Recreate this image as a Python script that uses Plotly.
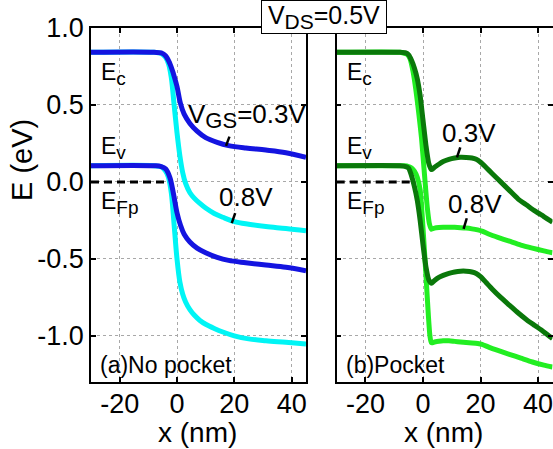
import plotly.graph_objects as go

# ---- band-edge data (x in nm, energy in eV) ----
# (a) no pocket
x_a_vgs03 = [-30, -8, -5.5, -4, -2.5, -1.2, 0, 1.2, 2.5, 4.5, 7, 10, 14, 18, 24, 31, 38, 45]
ec_a_vgs03 = [0.842, 0.842, 0.838, 0.82, 0.77, 0.70, 0.62, 0.51, 0.44, 0.38, 0.33, 0.288, 0.257, 0.236, 0.22, 0.207, 0.19, 0.16]
ev_a_vgs03 = [0.105, 0.105, 0.10, 0.085, 0.03, -0.08, -0.2, -0.28, -0.34, -0.39, -0.43, -0.46, -0.49, -0.51, -0.525, -0.54, -0.555, -0.578]

x_a_vgs08 = [-30, -8, -5.5, -4, -3, -2, -1, 0, 1, 2, 3, 4.5, 6, 8, 10, 13, 16, 20, 25, 31, 38, 45]
ec_a_vgs08 = [0.842, 0.842, 0.835, 0.81, 0.77, 0.68, 0.50, 0.32, 0.17, 0.06, -0.01, -0.07, -0.105, -0.14, -0.17, -0.205, -0.23, -0.258, -0.275, -0.29, -0.303, -0.318]
ev_a_vgs08 = [0.105, 0.105, 0.098, 0.07, 0.03, -0.07, -0.28, -0.50, -0.65, -0.73, -0.78, -0.83, -0.865, -0.90, -0.925, -0.952, -0.975, -1.0, -1.02, -1.032, -1.042, -1.053]

# (b) pocket
x_b_vgs03 = [-30, -8, -6, -5, -4, -3, -2, -1, 0, 1, 2, 2.9, 4, 5.5, 7, 9, 11, 13, 15, 17, 18.5, 20, 22, 24, 27, 30, 33, 36, 39, 42, 45]
ec_b_vgs03 = [0.842, 0.842, 0.838, 0.825, 0.79, 0.74, 0.67, 0.56, 0.40, 0.24, 0.12, 0.08, 0.095, 0.115, 0.132, 0.146, 0.155, 0.16, 0.159, 0.155, 0.147, 0.128, 0.092, 0.055, 0.0, -0.055, -0.11, -0.15, -0.19, -0.225, -0.262]
ev_b_vgs03 = [0.105, 0.105, 0.10, 0.09, 0.04, -0.03, -0.12, -0.25, -0.41, -0.55, -0.635, -0.658, -0.64, -0.62, -0.607, -0.594, -0.585, -0.58, -0.58, -0.585, -0.595, -0.615, -0.655, -0.695, -0.75, -0.80, -0.85, -0.895, -0.935, -0.975, -1.018]

x_b_vgs08_ec = [-30, -8, -6.5, -5.5, -4.5, -3.5, -2.5, -1.5, -0.5, 0.5, 1.5, 2.2, 2.9, 4, 5.5, 7, 9, 11, 13, 15, 17, 19, 20.5, 23, 26, 30, 34, 38, 42, 45]
ec_b_vgs08 = [0.842, 0.842, 0.835, 0.83, 0.80, 0.72, 0.60, 0.45, 0.28, 0.05, -0.17, -0.27, -0.307, -0.30, -0.296, -0.294, -0.294, -0.295, -0.297, -0.30, -0.305, -0.312, -0.32, -0.34, -0.36, -0.385, -0.41, -0.43, -0.448, -0.46]
x_b_vgs08_ev = [-30, -8, -6.5, -5, -4, -3, -2, -1, 0, 1, 1.8, 2.4, 2.9, 4, 5.5, 7, 9, 11, 13, 15, 17, 19, 20.5, 23, 26, 30, 34, 38, 42, 45]
ev_b_vgs08 = [0.105, 0.105, 0.105, 0.10, 0.09, 0.07, 0.03, -0.05, -0.3, -0.6, -0.85, -1.0, -1.045, -1.04, -1.035, -1.032, -1.032, -1.036, -1.04, -1.043, -1.046, -1.05, -1.055, -1.075, -1.095, -1.12, -1.145, -1.17, -1.19, -1.203]

# quasi-Fermi level in the source
x_fermi = [-30, -4.5]
e_fermi = [0.0, 0.0]

x_ticks = [-20, 0, 20, 40]
x_ticklabels = ["-20", "0", "20", "40"]
y_ticks = [-1.0, -0.5, 0.0, 0.5, 1.0]
y_ticklabels = ["-1.0", "-0.5", "0.0", "0.5", "1.0"]

BLUE = "#1414E0"
CYAN = "#00F5F5"
DKGREEN = "#0A780A"
LTGREEN = "#22EE22"
LW = 5
FONT = "Liberation Sans, Arial, sans-serif"

fig = go.Figure()


def band(x, y, color, xa, ya, smooth=1.0):
    fig.add_trace(go.Scatter(
        x=x, y=y, mode="lines", xaxis=xa, yaxis=ya,
        line=dict(color=color, width=LW, shape="spline", smoothing=smooth),
        showlegend=False, hoverinfo="skip"))


# panel (a)
band(x_a_vgs08, ec_a_vgs08, CYAN, "x", "y")
band(x_a_vgs08, ev_a_vgs08, CYAN, "x", "y")
band(x_a_vgs03, ec_a_vgs03, BLUE, "x", "y")
band(x_a_vgs03, ev_a_vgs03, BLUE, "x", "y")
# panel (b)
band(x_b_vgs08_ec, ec_b_vgs08, LTGREEN, "x2", "y2", 0.6)
band(x_b_vgs08_ev, ev_b_vgs08, LTGREEN, "x2", "y2", 0.6)
band(x_b_vgs03, ec_b_vgs03, DKGREEN, "x2", "y2", 0.6)
band(x_b_vgs03, ev_b_vgs03, DKGREEN, "x2", "y2", 0.6)

for xa, ya in (("x", "y"), ("x2", "y2")):
    fig.add_trace(go.Scatter(
        x=x_fermi, y=e_fermi, mode="lines", xaxis=xa, yaxis=ya,
        line=dict(color="black", width=3, dash="8px,5px"),
        showlegend=False, hoverinfo="skip"))

# short leader lines from the voltage labels to the curves
leaders = [
    ("x", "y", [18.3, 17.1], [0.294, 0.234]),
    ("x", "y", [20.3, 19.1], [-0.203, -0.268]),
    ("x2", "y2", [12.95, 11.8], [0.225, 0.16]),
    ("x2", "y2", [15.2, 14.1], [-0.236, -0.305]),
]
for xa, ya, lx, ly in leaders:
    fig.add_trace(go.Scatter(
        x=lx, y=ly, mode="lines", xaxis=xa, yaxis=ya,
        line=dict(color="black", width=2.5),
        showlegend=False, hoverinfo="skip"))

axis_common = dict(
    showline=True, linecolor="black", linewidth=1.5, mirror="ticks",
    ticks="inside", ticklen=5, tickwidth=1.5, tickcolor="black",
    showgrid=True, gridcolor="#a8a8a8", gridwidth=1, griddash="dot",
    zeroline=False, automargin=False, ticklabeloverflow="allow",
    tickfont=dict(family=FONT, size=27, color="black"),
)

fig.update_layout(
    width=553, height=449,
    margin=dict(l=0, r=0, t=0, b=0),
    paper_bgcolor="white", plot_bgcolor="white",
    font=dict(family=FONT, color="black"),
    xaxis=dict(domain=[91 / 553, 306 / 553], range=[-30, 45],
               tickvals=x_ticks, ticktext=x_ticklabels, ticklabelstandoff=-3,
               anchor="y", **axis_common),
    xaxis2=dict(domain=[336.7 / 553, 552.5 / 553], range=[-30, 45],
                tickvals=x_ticks, ticktext=x_ticklabels, ticklabelstandoff=-3,
                anchor="y2", **axis_common),
    yaxis=dict(domain=[67 / 449, 421 / 449], range=[-1.3, 1.0],
               tickvals=y_ticks, ticktext=y_ticklabels, anchor="x", **axis_common),
    yaxis2=dict(domain=[67 / 449, 421 / 449], range=[-1.3, 1.0],
                tickvals=y_ticks, showticklabels=False, anchor="x2", **axis_common),
)

ann = []


def label(text, x, y, xref, yref, size=23, xanchor="left", yanchor="middle"):
    ann.append(dict(text=text, x=x, y=y, xref=xref, yref=yref, showarrow=False,
                    xanchor=xanchor, yanchor=yanchor,
                    font=dict(family=FONT, size=size, color="black")))


def sub(s, px):
    return '<sub><span style="font-size:%dpx">%s</span></sub>' % (px, s)


for xr, yr in (("x", "y"), ("x2", "y2")):
    label("E" + sub("c", 19), -27.2, 0.70, xr, yr)
    label("E" + sub("v", 19), -27.2, 0.22, xr, yr)
    label("E" + sub("Fp", 19), -27.2, -0.14, xr, yr)

label("V" + sub("GS", 22) + "=0.3V", 3.0, 0.43, "x", "y", size=26)
label("0.8V", 24.1, -0.10, "x", "y", size=26, xanchor="center")
label("0.3V", 15.9, 0.316, "x2", "y2", size=26, xanchor="center")
label("0.8V", 17.9, -0.143, "x2", "y2", size=26, xanchor="center")
label("(a)No pocket", -27.6, -1.19, "x", "y", size=23)
label("(b)Pocket", -27.6, -1.19, "x2", "y2", size=23)

# axis titles
label("E (eV)", 22 / 553, 1 - 160 / 449, "paper", "paper", size=29, xanchor="center")
ann[-1]["textangle"] = -90
label("x (nm)", 198 / 553, 1 - 432 / 449, "paper", "paper", size=28, xanchor="center")
label("x (nm)", 443.3 / 553, 1 - 432 / 449, "paper", "paper", size=28, xanchor="center")

# boxed drain bias
ann.append(dict(text="V" + sub("DS", 21) + "=0.5V", x=323.7 / 553, y=1 - 17 / 449,
                xref="paper", yref="paper", showarrow=False,
                xanchor="center", yanchor="middle", width=120, height=28,
                font=dict(family=FONT, size=25, color="black"),
                bgcolor="white", bordercolor="black", borderwidth=1, borderpad=2))

fig.update_layout(annotations=ann)
fig.write_html("out.html")
